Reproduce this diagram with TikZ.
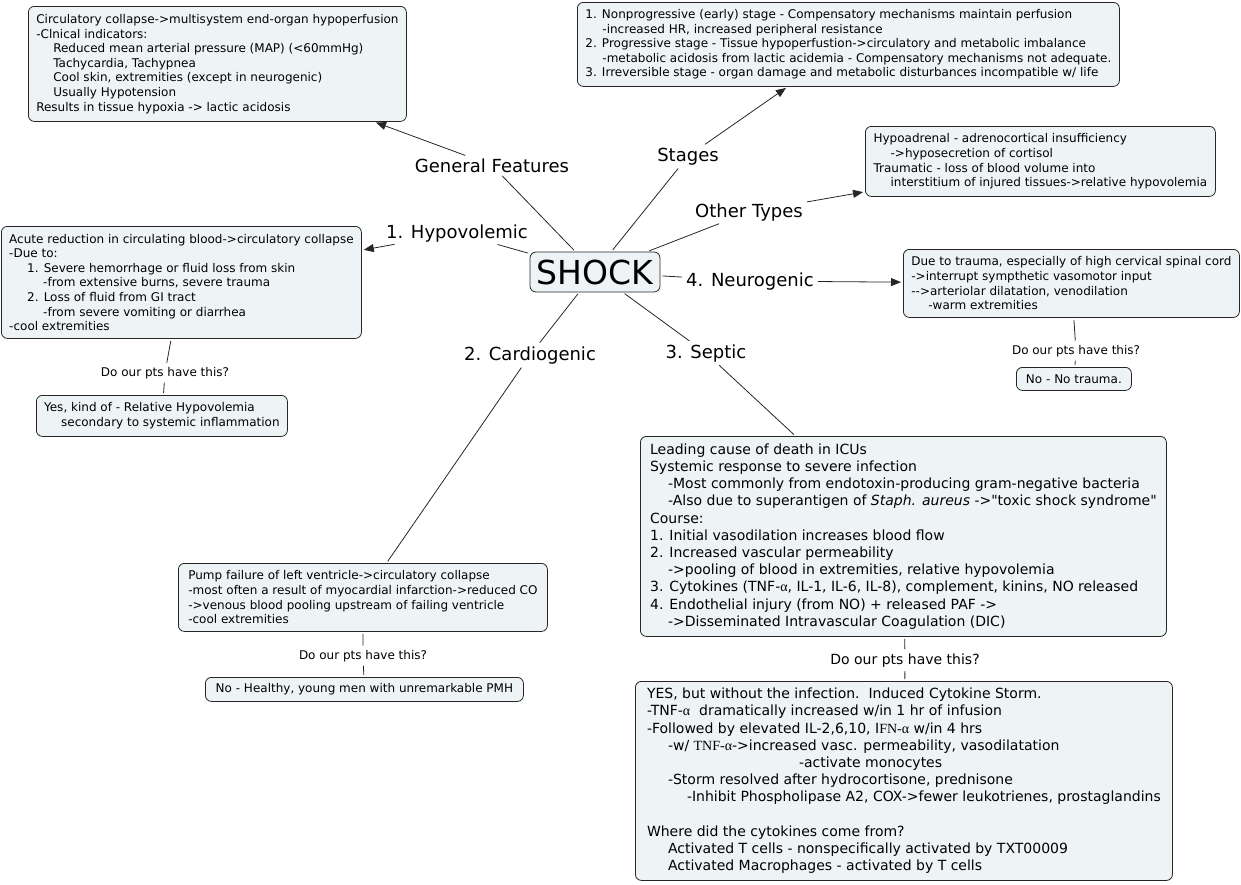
\documentclass[tikz,border=0pt]{standalone}
\usepackage{fontspec}
\setmainfont{DejaVu Sans}
\newfontfamily\grk{Liberation Serif}
\usetikzlibrary{positioning,arrows.meta}
\definecolor{notefill}{RGB}{238,244,246}
\newcommand{\myind}[1][17pt]{\hspace*{#1}}
\newcommand{\dquote}{\XeTeXglyph\XeTeXcharglyph"22\relax}

\begin{document}
\begin{tikzpicture}[
  x=1pt, y=-1pt,
  >={Triangle[length=10pt,width=8pt]},
  note/.style={draw=black!85, line width=0.8pt, rounded corners=6pt, fill=notefill, align=left, anchor=north west, inner xsep=7pt, inner ysep=3pt, font=\fontsize{12}{14.6}\selectfont},
  big/.style={font=\fontsize{14}{17.2}\selectfont},
  lbl/.style={anchor=base, inner sep=2pt, font=\fontsize{18}{21}\selectfont},
  ask/.style={anchor=base, inner sep=2pt, font=\fontsize{12}{14.6}\selectfont},
  link/.style={draw=black!85, line width=0.8pt, shorten <=2pt, shorten >=2pt},
  arr/.style={link, ->}
]
\useasboundingbox (0,0) rectangle (1241,884);

% Central concept
\node[draw=black!85, line width=0.8pt, rounded corners=6pt, fill=notefill, minimum width=130pt, minimum height=40pt, inner sep=0pt, font=\fontsize{33}{36}\selectfont] (shock) at (595,272) {SHOCK};

% Link labels round the centre
\node[lbl] (gen) at (492,172) {General Features};
\node[lbl] (stages) at (688,161) {Stages};
\node[lbl] (other) at (749,217) {Other Types};
\node[lbl] (hypo) at (457,238) {1. Hypovolemic};
\node[lbl] (neuro) at (750,286) {4. Neurogenic};
\node[lbl] (cardio) at (530,360) {2. Cardiogenic};
\node[lbl] (septic) at (706,358) {3. Septic};

% Description boxes
\node[note, minimum width=378pt, minimum height=115pt] (genbox) at (28,6) {Circulatory collapse->multisystem end-organ hypoperfusion\\
-Clnical indicators:\\
\myind Reduced mean arterial pressure (MAP) (<60mmHg)\\
\myind Tachycardia, Tachypnea\\
\myind Cool skin, extremities (except in neurogenic)\\
\myind Usually Hypotension\\
Results in tissue hypoxia -> lactic acidosis};

\node[note, minimum width=542pt, minimum height=84pt] (stagebox) at (577,2) {1. Nonprogressive (early) stage - Compensatory mechanisms maintain perfusion\\
\myind -increased HR, increased peripheral resistance\\
2. Progressive stage - Tissue hypoperfustion->circulatory and metabolic imbalance\\
\myind -metabolic acidosis from lactic acidemia - Compensatory mechanisms not adequate.\\
3. Irreversible stage - organ damage and metabolic disturbances incompatible w/ life};

\node[note, minimum width=350pt, minimum height=70pt] (otherbox) at (865,126) {Hypoadrenal - adrenocortical insufficiency\\
\myind ->hyposecretion of cortisol\\
Traumatic - loss of blood volume into\\
\myind interstitium of injured tissues->relative hypovolemia};

\node[note, minimum width=360pt, minimum height=112pt] (hypobox) at (1,226) {Acute reduction in circulating blood->circulatory collapse\\
-Due to:\\
\myind[18pt]1. Severe hemorrhage or fluid loss from skin\\
\myind[34pt]-from extensive burns, severe trauma\\
\myind[18pt]2. Loss of fluid from GI tract\\
\myind[34pt]-from severe vomiting or diarrhea\\
-cool extremities};

\node[note, minimum width=251pt, minimum height=41pt] (hypoans) at (36,395) {Yes, kind of - Relative Hypovolemia\\
\myind secondary to systemic inflammation};

\node[note, minimum width=336pt, minimum height=68pt] (neurobox) at (903,249) {Due to trauma, especially of high cervical spinal cord\\
->interrupt sympthetic vasomotor input\\
-\kern0pt->arteriolar dilatation, venodilation\\
\myind -warm extremities};

\node[note, minimum width=115pt, minimum height=23pt] (neuroans) at (1016,367) {No - No trauma.};

\node[note, minimum width=369pt, minimum height=68pt] (cardiobox) at (178,563) {Pump failure of left ventricle->circulatory collapse\\
-most often a result of myocardial infarction->reduced CO\\
->venous blood pooling upstream of failing ventricle\\
-cool extremities};

\node[note, minimum width=318pt, minimum height=24pt] (cardioans) at (205,677) {No - Healthy, young men with unremarkable PMH};

\node[note, big, minimum width=526pt, minimum height=200pt] (septicbox) at (640,436) {Leading cause of death in ICUs\\
Systemic response to severe infection\\
\myind[18pt]-Most commonly from endotoxin-producing gram-negative bacteria\\
\myind[18pt]-Also due to superantigen of \textit{Staph. aureus} ->\dquote toxic shock syndrome\dquote\\
Course:\\
1. Initial vasodilation increases blood flow\\
2. Increased vascular permeability\\
\myind[18pt]->pooling of blood in extremities, relative hypovolemia\\
3. Cytokines (TNF-{\grk α}, IL-1, IL-6, IL-8), complement, kinins, NO released\\
4. Endothelial injury (from NO) + released PAF ->\\
\myind[18pt]->Disseminated Intravascular Coagulation (DIC)};

\node[note, big, minimum width=537pt, minimum height=199pt] (septicans) at (635,681) {YES, but without the infection.\ \ Induced Cytokine Storm.\\
-TNF-{\grk α}\ \ dramatically increased w/in 1 hr of infusion\\
-Followed by elevated IL-2,6,10, I{\grk FN-α} w/in 4 hrs\\
\myind[21pt]-w/ {\grk TNF-α}->increased vasc. permeability, vasodilatation\\
\myind[152pt]-activate monocytes\\
\myind[21pt]-Storm resolved after hydrocortisone, prednisone\\
\myind[40pt]-Inhibit Phospholipase A2, COX->fewer leukotrienes, prostaglandins\\[17.2pt]
Where did the cytokines come from?\\
\myind[21pt]Activated T cells - nonspecifically activated by TXT00009\\
\myind[21pt]Activated Macrophages - activated by T cells};

% Questions under the types
\node[ask] (hypoq) at (165,376) {Do our pts have this?};
\node[ask] (neuroq) at (1076,354) {Do our pts have this?};
\node[ask] (cardioq) at (363,659) {Do our pts have this?};
\node[ask, big] (septicq) at (905,664) {Do our pts have this?};

% Centre -> labels
\draw[link] (shock) -- (gen);
\draw[link] (shock) -- (stages);
\draw[link] (shock) -- (other);
\draw[link] (shock) -- (hypo);
\draw[link] (shock) -- (neuro);
\draw[link] (shock) -- (cardio);
\draw[link] (shock) -- (septic);

% Labels -> boxes
\draw[arr] (gen) -- (genbox);
\draw[arr] (stages) -- (stagebox);
\draw[arr] (other) -- (otherbox);
\draw[arr] (hypo) -- (hypobox);
\draw[arr] (neuro) -- (neurobox);
\draw[link] (cardio) -- (cardiobox);
\draw[link] (septic) -- (septicbox);

% Boxes -> answers
\draw[link] (hypobox) -- (hypoq);
\draw[link] (hypoq) -- (hypoans);
\draw[link] (neurobox) -- (neuroq);
\draw[link] (neuroq) -- (neuroans);
\draw[link] (cardiobox) -- (cardioq);
\draw[link] (cardioq) -- (cardioans);
\draw[link] (septicbox) -- (septicq);
\draw[link] (septicq) -- (septicans);

\end{tikzpicture}
\end{document}
